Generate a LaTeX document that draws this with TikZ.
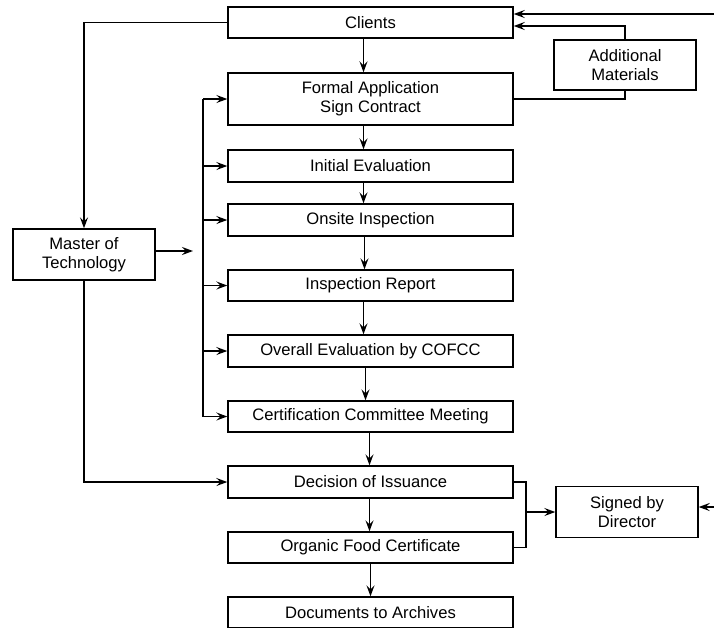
\documentclass[tikz,border=0pt]{standalone}
\usepackage{fontspec}
\setmainfont{Liberation Sans}
\usetikzlibrary{arrows.meta,calc}
\begin{document}
\begin{tikzpicture}[x=1pt,y=-1pt,
  font=\fontsize{16.6}{19}\selectfont,
  box/.style={draw,line width=1.4pt,minimum width=285pt,inner sep=0pt,align=center},
  sidebox/.style={draw,line width=1.4pt,minimum width=142pt,inner sep=0pt,align=center},
  conn/.style={line width=1.5pt},
  arr/.style={conn,-{Stealth[length=11pt,width=8pt,inset=4pt]}}]
\useasboundingbox (0,0) rectangle (714,627);
% main column
\node[box,minimum height=31pt] (clients) at (370.5,22.5) {Clients};
\node[box,minimum height=52pt] (formal) at (370.5,99) {Formal Application\\Sign Contract};
\node[box,minimum height=32pt] (initial) at (370.5,166) {Initial Evaluation};
\node[box,minimum height=32pt] (onsite) at (370.5,220) {Onsite Inspection};
\node[box,minimum height=31pt] (report) at (370.5,285.5) {Inspection Report};
\node[box,minimum height=32pt] (overall) at (370.5,351) {Overall Evaluation by COFCC};
\node[box,minimum height=31pt] (cert) at (370.5,416.5) {Certification Committee Meeting};
\node[box,minimum height=32pt] (decision) at (370.5,482) {Decision of Issuance};
\node[box,minimum height=31pt] (organic) at (370.5,547.5) {Organic Food Certificate};
\node[box,minimum height=31pt] (docs) at (370.5,612.5) {Documents to Archives};
% side boxes
\node[sidebox,minimum height=50pt] (am) at (625,65) {Additional\\Materials};
\node[sidebox,minimum height=51pt] (mot) at (84,254.5) {Master of\\Technology};
\node[sidebox,minimum height=51pt] (signed) at (627,512) {Signed by\\Director};
% coordinates
\coordinate (in1) at (714,14);
\coordinate (in2) at (714,507);
\coordinate (amin) at (625,26);
\coordinate (motout) at (193,251);
\coordinate (bustop) at (203,99);
\coordinate (br) at (526,512);
% inputs into Clients
\draw[arr] (in1) -- (in1 -| clients.east);
\draw[arr] (am.north) |- (amin -| clients.east);
\draw[conn] (formal.east) -| (am.south);
% vertical flow
\draw[arr] ([xshift=-7pt]clients.south) -- ([xshift=-7pt]formal.north);
\draw[arr] ([xshift=-7pt]formal.south) -- ([xshift=-7pt]initial.north);
\draw[arr] ([xshift=-7pt]initial.south) -- ([xshift=-7pt]onsite.north);
\draw[arr] ([xshift=-6pt]onsite.south) -- ([xshift=-6pt]report.north);
\draw[arr] ([xshift=-7pt]report.south) -- ([xshift=-7pt]overall.north);
\draw[arr] ([xshift=-5pt]overall.south) -- ([xshift=-5pt]cert.north);
\draw[arr] ([xshift=-1pt]cert.south) -- ([xshift=-1pt]decision.north);
\draw[arr] ([xshift=-1pt]decision.south) -- ([xshift=-1pt]organic.north);
\draw[arr] (organic.south) -- (docs.north);
% master of technology
\draw[arr] (clients.west) -| (mot.north);
\draw[arr] (motout -| mot.east) -- (motout);
\draw[conn] (bustop) -- (bustop |- cert.west);
\foreach \n in {formal,initial,onsite,report,overall,cert}
  \draw[arr] (bustop |- \n.west) -- (\n.west);
\draw[arr] (mot.south) |- (decision.west);
% bracket to director
\draw[conn] (decision.east) -| (br) |- (organic.east);
\draw[arr] (br) -- (signed.west);
\draw[arr] (in2) -- (in2 -| signed.east);
\end{tikzpicture}
\end{document}
